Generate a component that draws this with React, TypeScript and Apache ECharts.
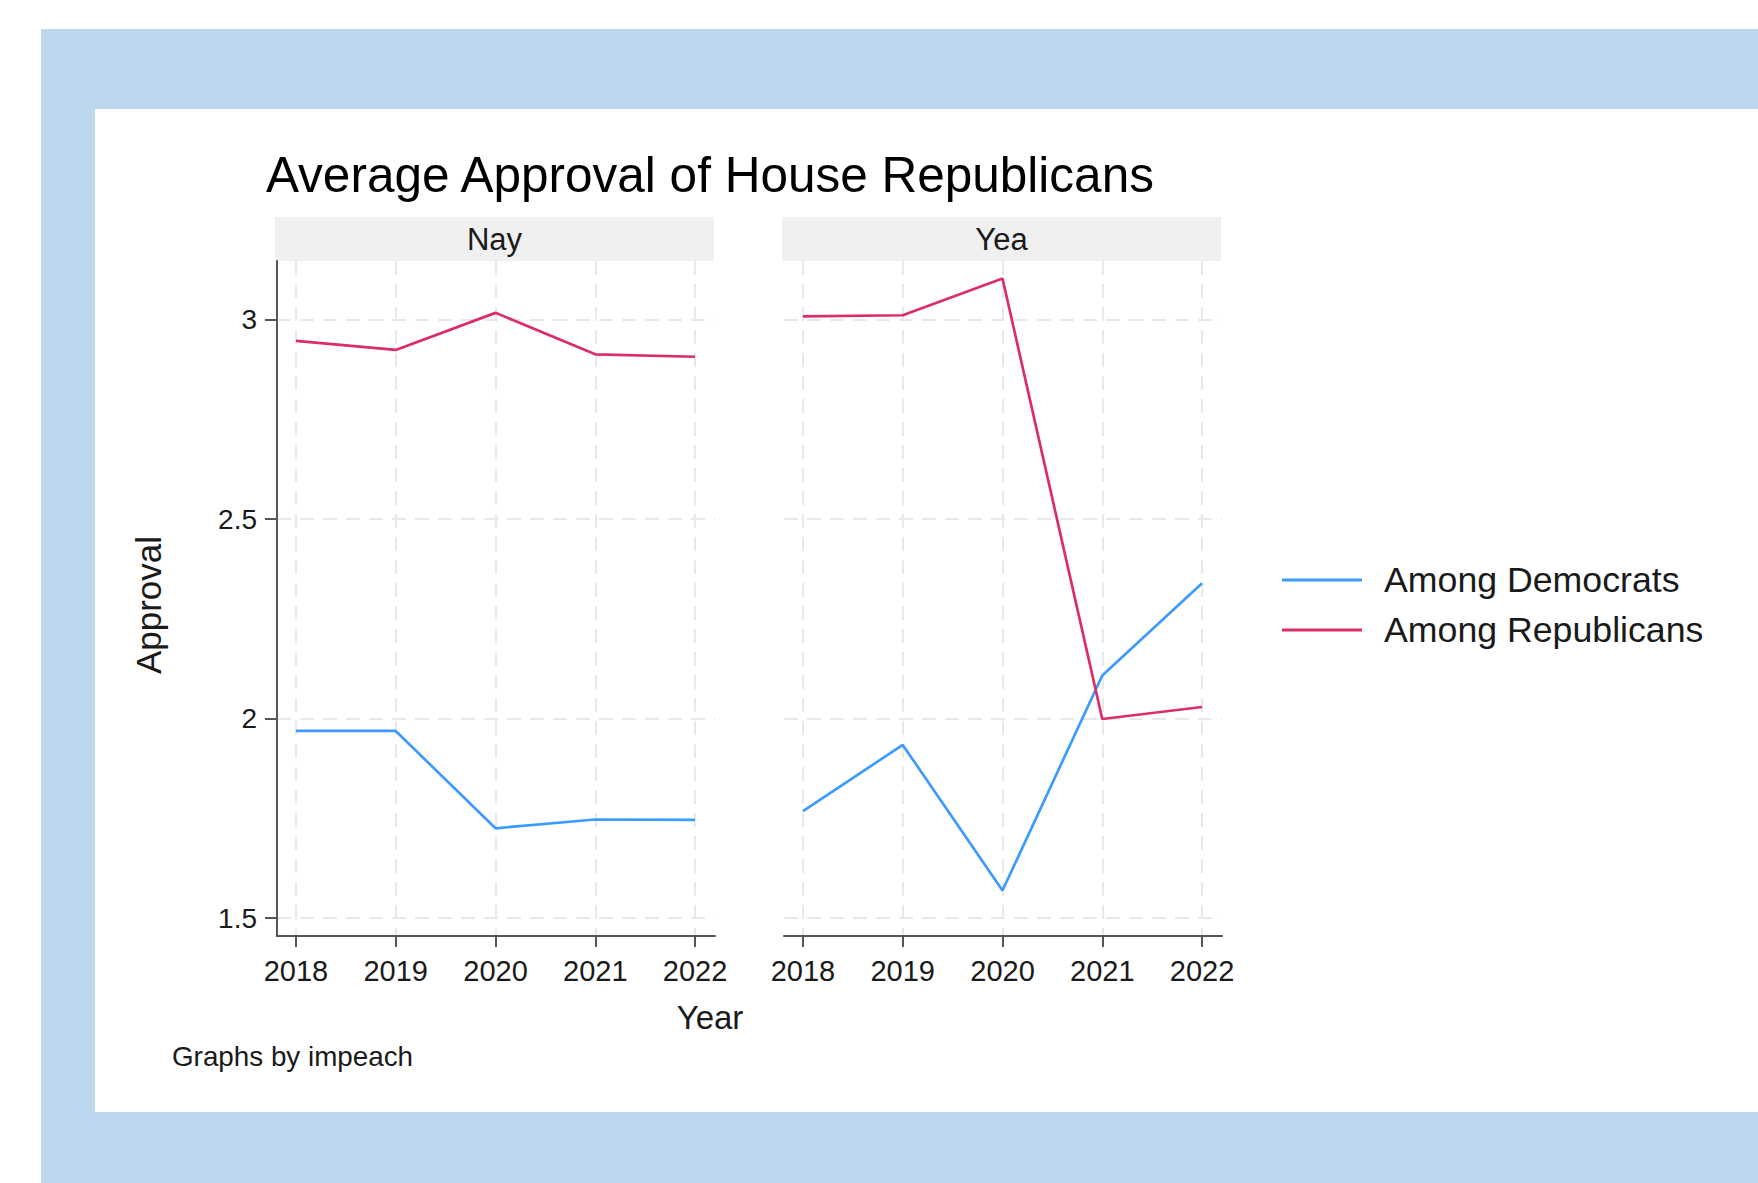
import React, { useEffect, useRef } from "react";
import * as echarts from "echarts";

const years = [2018, 2019, 2020, 2021, 2022];
const yTicks = [1.5, 2, 2.5, 3];
const panels = ["Nay", "Yea"];
const seriesNames = ["Among Democrats", "Among Republicans"];
const nayDemocrats = [1.969, 1.969, 1.725, 1.747, 1.746];
const nayRepublicans = [2.947, 2.924, 3.017, 2.913, 2.907];
const yeaDemocrats = [1.768, 1.934, 1.569, 2.108, 2.339];
const yeaRepublicans = [3.008, 3.011, 3.103, 1.999, 2.029];
const titleText = "Average Approval of House Republicans";
const xTitle = "Year";
const yTitle = "Approval";
const noteText = "Graphs by impeach";

const FONT = '"Liberation Sans", Arial, sans-serif';
const BLUE = "#3d9bff";
const RED = "#dc2e66";
const TXT = "#1a1a1a";
const AXIS = "#555555";
const GRIDC = "#e9e9e9";

export default function App() {
  const ref = useRef<HTMLDivElement>(null);
  useEffect(() => {
    if (!ref.current) return;
    const chart = echarts.init(ref.current, undefined, { renderer: "svg" });
    const pair = (vals: number[]) => years.map((y, i) => [y, vals[i]]);
    const panelData = [
      [nayDemocrats, nayRepublicans],
      [yeaDemocrats, yeaRepublicans],
    ];
    const gridDefs = [
      { left: 277, width: 438 },
      { left: 784, width: 438 },
    ];
    const splitLine = {
      show: true,
      lineStyle: { color: GRIDC, width: 2, type: [14, 9] as any },
    };
    const xAxes = gridDefs.map((_, i) => ({
      type: "value",
      gridIndex: i,
      min: 2017.81,
      max: 2022.2,
      axisLine: { show: true, onZero: false, lineStyle: { color: AXIS, width: 2 } },
      axisTick: { show: true, length: 11, customValues: years, lineStyle: { color: AXIS, width: 2 } },
      axisLabel: {
        show: true,
        customValues: years,
        margin: 20,
        fontSize: 29,
        color: TXT,
        fontFamily: FONT,
        formatter: (v: number) => String(v),
      },
      splitLine,
    }));
    const yAxes = gridDefs.map((_, i) => ({
      type: "value",
      gridIndex: i,
      min: 1.455,
      max: 3.147,
      axisLine: { show: i === 0, onZero: false, lineStyle: { color: AXIS, width: 2 } },
      axisTick: { show: i === 0, length: 12, customValues: yTicks, lineStyle: { color: AXIS, width: 2 } },
      axisLabel: {
        show: i === 0,
        customValues: yTicks,
        margin: 20,
        fontSize: 28,
        color: TXT,
        fontFamily: FONT,
        formatter: (v: number) => String(v),
      },
      splitLine,
    }));
    const series: any[] = [];
    panelData.forEach((pd, gi) => {
      pd.forEach((vals, si) => {
        const c = si === 0 ? BLUE : RED;
        series.push({
          type: "line",
          name: seriesNames[si],
          xAxisIndex: gi,
          yAxisIndex: gi,
          data: pair(vals),
          showSymbol: false,
          symbol: "none",
          color: c,
          itemStyle: { color: c },
          lineStyle: { color: c, width: 2.7 },
          z: si === 0 ? 3 : 4,
        });
      });
    });
    const headers = panels.map((p, i) => ({
      type: "group",
      children: [
        {
          type: "rect",
          shape: { x: gridDefs[i].left - 2, y: 217, width: gridDefs[i].width + 1, height: 44 },
          style: { fill: "#f0f0f0" },
          z: -5,
        },
        {
          type: "text",
          x: gridDefs[i].left - 2 + (gridDefs[i].width + 1) / 2,
          y: 239,
          style: {
            text: p,
            x: 0,
            y: 0,
            fill: TXT,
            font: `31px ${FONT}`,
            align: "center",
            verticalAlign: "middle",
            textAlign: "center",
            textVerticalAlign: "middle",
          },
        },
      ],
    }));
    chart.setOption({
      animation: false,
      backgroundColor: "#ffffff",
      grid: gridDefs.map((g) => ({
        left: g.left,
        width: g.width,
        top: 261,
        height: 675,
        containLabel: false,
        outerBoundsMode: "none",
      })),
      xAxis: xAxes,
      yAxis: yAxes,
      legend: {
        show: true,
        orient: "vertical",
        left: 1282,
        top: 562,
        padding: 0,
        itemWidth: 80,
        itemHeight: 3,
        itemGap: 14,
        icon: "rect",
        data: seriesNames,
        selectedMode: false,
        textStyle: {
          fontSize: 35.7,
          lineHeight: 35,
          color: TXT,
          fontFamily: FONT,
          padding: [0, 0, 0, 17],
        },
      },
      graphic: [
        {
          type: "rect",
          shape: { x: 41, y: 29, width: 1758 - 41, height: 1183 - 29 },
          style: { fill: "#bdd7ee" },
          z: -20,
        },
        {
          type: "rect",
          shape: { x: 95, y: 109, width: 1758 - 95, height: 1112 - 109 },
          style: { fill: "#ffffff" },
          z: -10,
        },
        ...headers,
        {
          type: "text",
          x: 266,
          y: 174,
          style: {
            text: titleText,
            x: 0,
            y: 0,
            fill: "#000000",
            font: `49.5px ${FONT}`,
            align: "left",
            verticalAlign: "middle",
            textAlign: "left",
            textVerticalAlign: "middle",
          },
        },
        {
          type: "text",
          x: 710,
          y: 1017,
          style: {
            text: xTitle,
            x: 0,
            y: 0,
            fill: TXT,
            font: `33px ${FONT}`,
            align: "center",
            verticalAlign: "middle",
            textAlign: "center",
            textVerticalAlign: "middle",
          },
        },
        {
          type: "text",
          x: 148,
          y: 605,
          rotation: Math.PI / 2,
          style: {
            text: yTitle,
            x: 0,
            y: 0,
            fill: TXT,
            font: `35px ${FONT}`,
            align: "center",
            verticalAlign: "middle",
            textAlign: "center",
            textVerticalAlign: "middle",
          },
        },
        {
          type: "text",
          x: 172,
          y: 1056,
          style: {
            text: noteText,
            x: 0,
            y: 0,
            fill: TXT,
            font: `27.8px ${FONT}`,
            align: "left",
            verticalAlign: "middle",
            textAlign: "left",
            textVerticalAlign: "middle",
          },
        },
      ],
      series,
    });
    return () => chart.dispose();
  }, []);
  return (
    <div
      ref={ref}
      style={{ position: "fixed", left: 0, top: 0, width: 1758, height: 1183 }}
    />
  );
}
